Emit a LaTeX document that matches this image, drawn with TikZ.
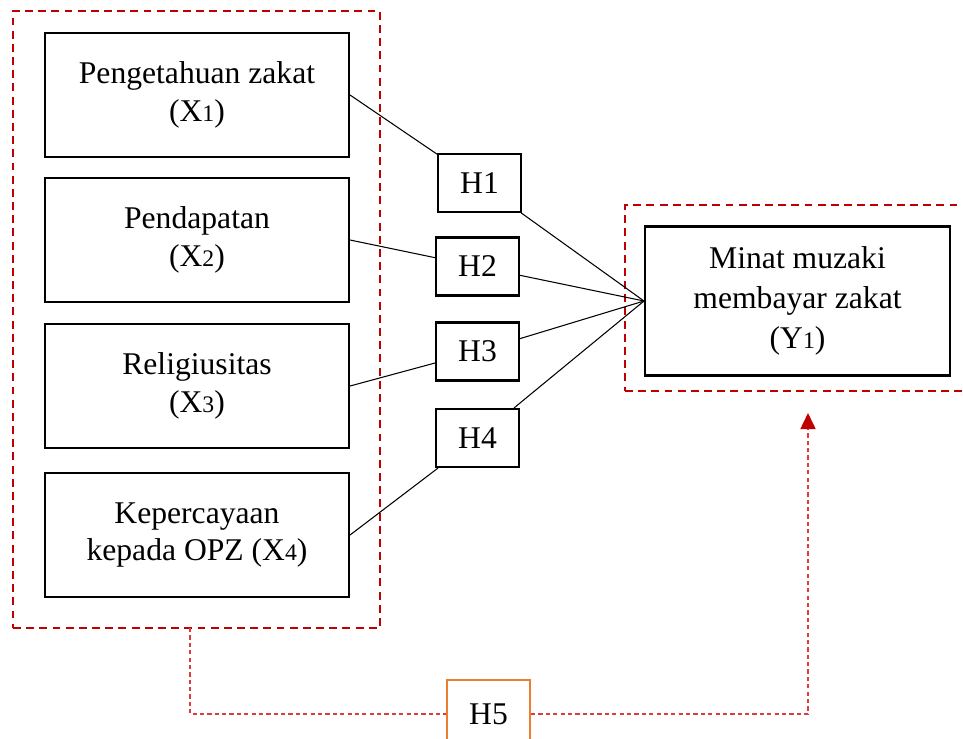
\documentclass[tikz,border=0pt]{standalone}
\usepackage{fontspec}
\setmainfont{Liberation Serif}
\usetikzlibrary{arrows.meta}
\definecolor{ZakatRed}{HTML}{C00000}
\definecolor{ZakatDot}{HTML}{DC3C3C}
\definecolor{ZakatOrange}{HTML}{ED7D31}
\newcommand{\vnum}[1]{{\fontsize{13.5}{13.5}\selectfont #1}}

\begin{document}
\begin{tikzpicture}[x=0.02cm,y=-0.02cm,
  var/.style={draw,line width=1.2pt,align=center,minimum width=6.08cm,
    minimum height=2.48cm,inner sep=0pt,font=\fontsize{18}{21.5}\selectfont},
  hyp/.style={draw,line width=1.2pt,minimum width=1.66cm,minimum height=1.16cm,
    inner sep=0pt,font=\fontsize{18}{21.5}\selectfont},
  grp/.style={draw=ZakatRed,line width=1.1pt,dash pattern=on 4.5pt off 3pt,
    inner sep=0pt},
  link/.style={line width=0.6pt},
  dotlink/.style={draw=ZakatDot,line width=0.9pt,dash pattern=on 2.4pt off 1.8pt}]
  \clip (0,0) rectangle (963,738);
  % group frames
  \node[grp,minimum width=7.34cm,minimum height=12.34cm] (gx) at (196.5,319.5) {};
  \node[grp,minimum width=7.0cm,minimum height=3.72cm] (gy) at (800,298) {};
  % independent variables
  \node[var] (x1) at (197,95) {Pengetahuan zakat\\(X\vnum{1})};
  \node[var] (x2) at (197,240) {Pendapatan\\(X\vnum{2})};
  \node[var] (x3) at (197,386) {Religiusitas\\(X\vnum{3})};
  \node[var] (x4) at (197,535) {Kepercayaan\\kepada OPZ (X\vnum{4})};
  % dependent variable
  \node[var,minimum width=6.10cm,minimum height=2.98cm,
    font=\fontsize{18}{22.7}\selectfont] (y1) at (797.5,301)
    {Minat muzaki\\membayar zakat\\(Y\vnum{1})};
  % hypotheses
  \node[hyp] (h1) at (479.5,183) {H1};
  \node[hyp] (h2) at (477.5,266.5) {H2};
  \node[hyp] (h3) at (477.5,351.5) {H3};
  \node[hyp] (h4) at (477.5,438) {H4};
  \node[hyp,draw=ZakatOrange,minimum height=1.36cm] (h5) at (488.5,714) {H5};
  \coordinate (gxb) at (190,628);
  \coordinate (tip) at (808,413);
  \foreach \i in {1,2,3,4}{
    \draw[link] (x\i.east) -- (h\i);
    \draw[link] (h\i) -- (y1.west);
  }
  \draw[dotlink] (gxb) |- (h5.west);
  \draw[dotlink,-{Triangle[length=0.32cm,width=0.3cm,color=ZakatRed]}]
    (h5.east) -| (tip);
\end{tikzpicture}
\end{document}
